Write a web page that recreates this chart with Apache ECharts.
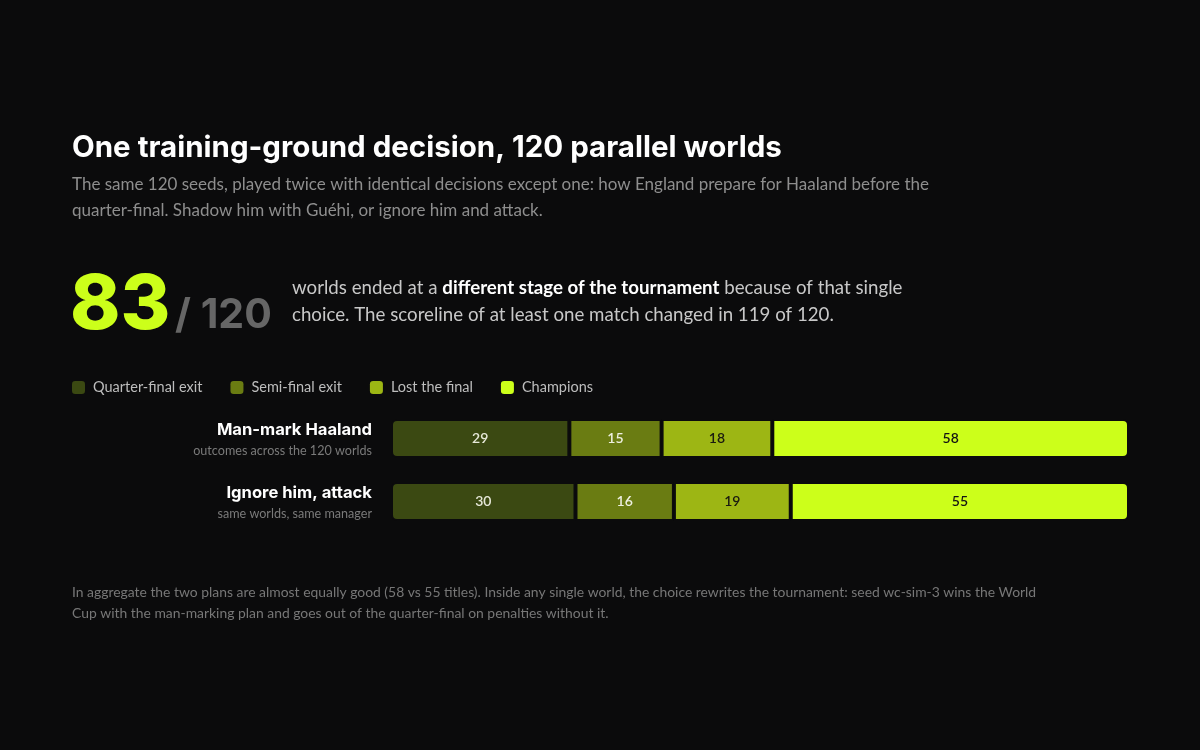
<!DOCTYPE html>
<html>
<head>
<meta charset="utf-8">
<script src="https://cdn.jsdelivr.net/npm/echarts@6/dist/echarts.min.js"></script>
<style>
html,body{margin:0;padding:0;background:#0b0b0c;}
#chart{width:1200px;height:750px;}
</style>
</head>
<body>
<div id="chart"></div>
<script>
// ---- data ----
const plans = ['Man-mark Haaland', 'Ignore him, attack'];
const planNotes = ['outcomes across the 120 worlds', 'same worlds, same manager'];
const stages = ['Quarter-final exit', 'Semi-final exit', 'Lost the final', 'Champions'];
const quarterFinal = [29, 30];
const semiFinal = [15, 16];
const lostFinal = [18, 19];
const champions = [58, 55];
const totalWorlds = 120;
const changedWorlds = 83;

const stageValues = [quarterFinal, semiFinal, lostFinal, champions];
const colors = ['#3b4912', '#6a7c12', '#9db614', '#ccff1a'];
const labelColors = ['#e6e8d8', '#eef0e0', '#1a1a10', '#141414'];
const BG = '#0b0b0c';
const bodyFont = 'Lato, "Noto Sans", sans-serif';
const headFont = 'Inter, "Noto Sans", sans-serif';

const chart = echarts.init(document.getElementById('chart'), null, {renderer: 'canvas'});

const series = stages.map((name, i) => ({
  name: name,
  type: 'bar',
  stack: 'total',
  barWidth: 39,
  data: stageValues[i],
  itemStyle: {
    color: colors[i],
    borderColor: BG,
    borderWidth: 2,
    borderRadius: i === 0 ? [5, 0, 0, 5] : (i === stages.length - 1 ? [0, 5, 5, 0] : 0)
  },
  label: {
    show: true,
    position: 'inside',
    color: labelColors[i],
    fontFamily: bodyFont,
    fontSize: 14,
    fontWeight: 600
  },
  emphasis: {disabled: true}
}));

chart.setOption({
  backgroundColor: BG,
  animation: false,
  legend: {
    left: 72,
    top: 380,
    padding: 0,
    icon: 'roundRect',
    itemWidth: 13,
    itemHeight: 13,
    itemGap: 28,
    data: stages,
    itemStyle: {borderWidth: 0},
    textStyle: {color: '#bdbdbd', fontSize: 14.5, fontFamily: bodyFont, padding: [0, 0, 0, 3]}
  },
  grid: {left: 391, right: 71, top: 407, height: 126, containLabel: false},
  xAxis: {type: 'value', min: 0, max: totalWorlds, show: false},
  yAxis: {
    type: 'category',
    data: plans,
    inverse: true,
    axisLine: {show: false},
    axisTick: {show: false},
    axisLabel: {
      margin: 19,
      align: 'right',
      formatter: (v, idx) => '{t|' + v + '}\n{s|' + planNotes[idx] + '}',
      rich: {
        t: {color: '#ffffff', fontSize: 16.6, fontWeight: 700, fontFamily: headFont, lineHeight: 24, align: 'right'},
        s: {color: '#7a7a7a', fontSize: 12.6, fontFamily: bodyFont, lineHeight: 17, align: 'right'}
      }
    }
  },
  series: series,
  graphic: [
    {type: 'text', left: 72, top: 133, style: {
      text: 'One training-ground decision, 120 parallel worlds',
      fill: '#ffffff', font: '700 29.5px ' + headFont}},
    {type: 'text', left: 72, top: 172, style: {
      text: 'The same 120 seeds, played twice with identical decisions except one: how England prepare for Haaland before the\nquarter-final. Shadow him with Guéhi, or ignore him and attack.',
      fill: '#8e8e8e', font: '17px ' + bodyFont, lineHeight: 26}},
    {type: 'text', left: 70, top: 268, style: {
      text: String(changedWorlds), fill: '#ccff1a', font: '800 76px ' + headFont}},
    {type: 'text', left: 175, top: 295, style: {
      text: '/ ' + totalWorlds, fill: '#666666', font: '700 41px ' + headFont}},
    {type: 'text', left: 292, top: 278, style: {
      text: '{n|worlds ended at a }{b|different stage of the tournament}{n| because of that single}\n{n|choice. The scoreline of at least one match changed in 119 of 120.}',
      rich: {
        n: {fill: '#c8c8c8', font: '18.7px ' + bodyFont, lineHeight: 27},
        b: {fill: '#ffffff', font: '700 18.7px ' + bodyFont, lineHeight: 27}
      }}},
    {type: 'text', left: 72, top: 582, style: {
      text: 'In aggregate the two plans are almost equally good (58 vs 55 titles). Inside any single world, the choice rewrites the tournament: seed wc-sim-3 wins the World\nCup with the man-marking plan and goes out of the quarter-final on penalties without it.',
      fill: '#777777', font: '13.9px ' + bodyFont, lineHeight: 21}}
  ]
});
</script>
</body>
</html>
